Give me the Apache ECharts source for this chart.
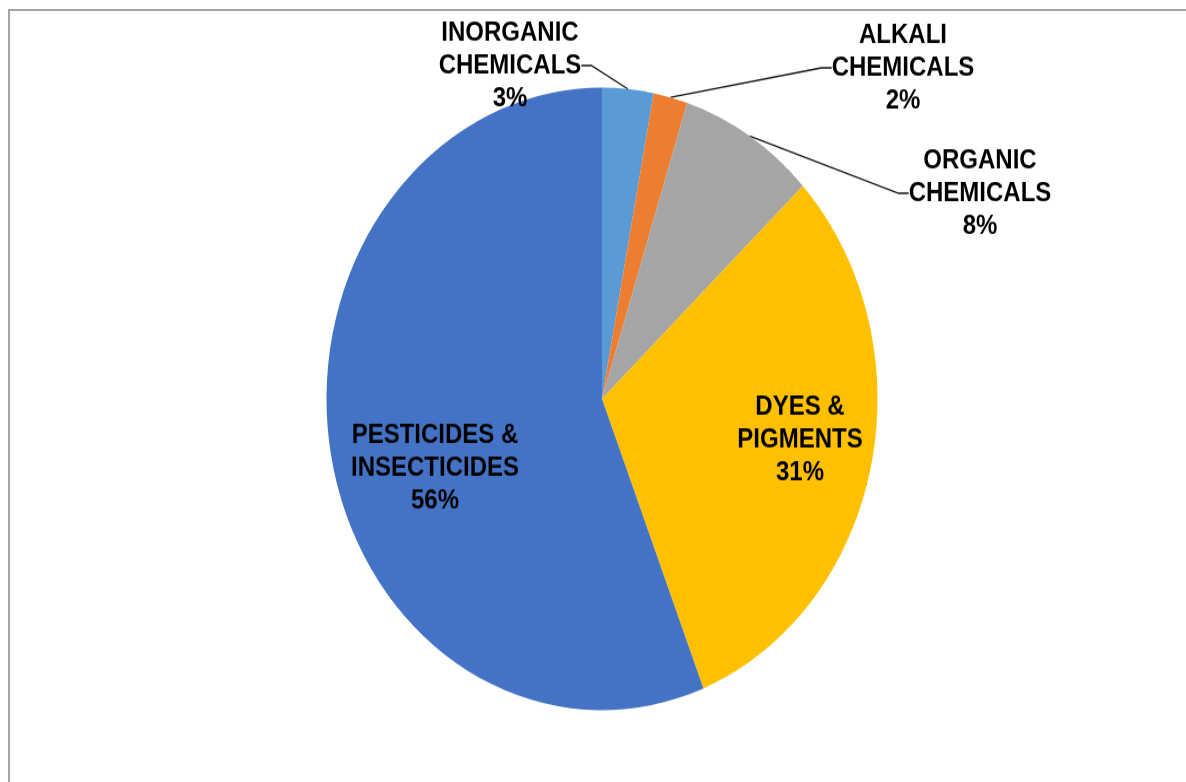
<!DOCTYPE html>
<html>
<head>
<meta charset="utf-8">
<title>Chemicals share</title>
<script src="https://cdn.jsdelivr.net/npm/echarts@6/dist/echarts.min.js"></script>
<style>
  html, body { margin: 0; padding: 0; background: #fff; overflow: hidden; }
  .frame {
    position: absolute; left: 8px; top: 9px; width: 1300px; height: 900px;
    border-left: 2px solid #a6a6a6; border-top: 2px solid #a6a6a6;
  }
  /* the source picture is stretched vertically, so the chart is too */
  #chart {
    position: absolute; left: 0; top: 0; width: 1186px; height: 692px;
    transform: scaleY(1.13); transform-origin: 0 0;
  }
</style>
</head>
<body>
<div class="frame"></div>
<div id="chart"></div>
<script>
  // categories and their share (%)
  const categories = [
    'INORGANIC\nCHEMICALS',
    'ALKALI\nCHEMICALS',
    'ORGANIC\nCHEMICALS',
    'DYES &\nPIGMENTS',
    'PESTICIDES &\nINSECTICIDES'
  ]
  const shares = [3, 2, 8, 31, 56]
  const colors = ['#5b9bd5', '#ed7d31', '#a5a5a5', '#ffc000', '#4472c4']

  /** label centres (chart px, before the vertical stretch) */
  const labelAt = [[510, 58], [903, 60], [980, 171], [800, 389], [435, 414]]

  const chart = echarts.init(document.getElementById('chart'))
  chart.setOption({
    animation: false,
    backgroundColor: 'transparent',
    series: [
      {
        type: 'pie',
        center: [602, 353],
        radius: 275.5,
        startAngle: 90,
        clockwise: true,
        avoidLabelOverlap: false,
        emphasis: { disabled: true },
        label: {
          show: true,
          formatter: '{b}\n{c}%',
          fontFamily: 'Liberation Sans, Arial, sans-serif',
          fontWeight: 'bold',
          fontSize: 24,
          lineHeight: 29,
          color: '#000'
        },
        labelLine: {
          show: true,
          length: 10,
          length2: 10,
          lineStyle: { color: '#111', width: 1.3 }
        },
        labelLayout: function (params) {
          const at = labelAt[params.dataIndex]
          return { x: at[0], y: at[1], align: 'center', verticalAlign: 'middle' }
        },
        data: categories.map((name, i) => ({
          name: name,
          value: shares[i],
          itemStyle: { color: colors[i] },
          label: { position: i < 3 ? 'outside' : 'inside' }
        }))
      }
    ]
  })
</script>
</body>
</html>
